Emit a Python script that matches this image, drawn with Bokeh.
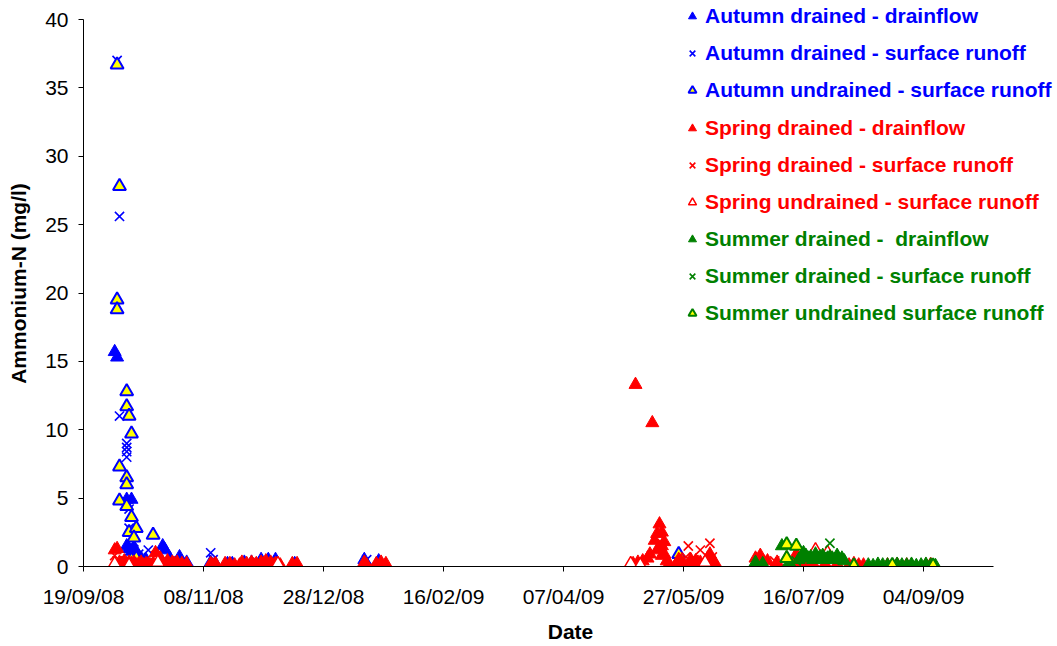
from datetime import datetime, timedelta
import pandas as pd
from bokeh.plotting import figure
from bokeh.models import (ColumnDataSource, Range1d, FixedTicker,
                          DatetimeTickFormatter, Legend, LegendItem)
from bokeh.embed import file_html
from bokeh.resources import INLINE

# ---------------- data ----------------
x_ticks = ["2008-09-19", "2008-11-08", "2008-12-28", "2009-02-16",
           "2009-04-07", "2009-05-27", "2009-07-16", "2009-09-04"]
y_ticks = [0, 5, 10, 15, 20, 25, 30, 35, 40]

aut_dr_df_dates = ["2008-10-02", "2008-10-03", "2008-10-07", "2008-10-09", "2008-10-07",
                   "2008-10-08", "2008-10-09", "2008-10-10", "2008-10-11", "2008-10-12",
                   "2008-10-13", "2008-10-15", "2008-10-22", "2008-10-23", "2008-10-25",
                   "2008-10-29", "2008-11-01", "2008-11-11", "2008-11-13", "2008-11-18",
                   "2008-11-20", "2008-11-25", "2008-11-28", "2008-12-02", "2008-12-05",
                   "2008-12-08", "2008-12-16", "2009-01-14", "2009-01-20"]
aut_dr_df_vals = [15.7, 15.3, 4.9, 4.9, 1.5, 1.3, 1.1, 1.4, 0.9, 0.7,
                  0.6, 0.5, 1.5, 1.2, 0.6, 0.7, 0.3, 0.3, 0.2, 0.2,
                  0.2, 0.3, 0.3, 0.5, 0.5, 0.5, 0.2, 0.5, 0.4]

aut_dr_sr_dates = ["2008-10-03", "2008-10-04", "2008-10-04", "2008-10-07", "2008-10-07",
                   "2008-10-07", "2008-10-07", "2008-10-08", "2008-10-08", "2008-10-09",
                   "2008-10-10", "2008-10-16", "2008-10-12", "2008-11-11", "2008-11-12",
                   "2008-12-03", "2009-01-15"]
aut_dr_sr_vals = [37.0, 25.6, 11.0, 9.0, 8.7, 8.4, 8.0, 4.2, 2.8, 2.6,
                  1.8, 1.2, 0.9, 1.0, 0.5, 0.4, 0.5]

aut_un_sr_dates = ["2008-10-03", "2008-10-04", "2008-10-03", "2008-10-03", "2008-10-07",
                   "2008-10-07", "2008-10-08", "2008-10-09", "2008-10-04", "2008-10-07",
                   "2008-10-07", "2008-10-04", "2008-10-07", "2008-10-09", "2008-10-08",
                   "2008-10-11", "2008-10-10", "2008-10-18", "2008-10-11", "2008-12-08",
                   "2008-10-09", "2009-05-25", "2009-06-07"]
aut_un_sr_vals = [36.7, 27.8, 19.5, 18.8, 12.8, 11.7, 11.0, 9.7, 7.3, 6.5,
                  6.0, 4.8, 4.4, 3.6, 2.5, 2.8, 2.1, 2.3, 0.6, 0.3,
                  0.5, 0.9, 0.6]

spr_dr_df_dates = ["2008-10-02", "2008-10-03", "2008-10-04", "2008-10-05", "2008-10-06",
                   "2008-10-07", "2008-10-08", "2008-10-09", "2008-10-10", "2008-10-12",
                   "2008-10-14", "2008-10-16", "2008-10-18", "2008-10-19", "2008-10-21",
                   "2008-10-22", "2008-10-24", "2008-10-26", "2008-10-28", "2008-10-30",
                   "2008-11-01", "2008-11-11", "2008-11-13", "2008-11-17", "2008-11-19",
                   "2008-11-21", "2008-11-24", "2008-11-26", "2008-11-28", "2008-11-30",
                   "2008-12-02", "2008-12-04", "2008-12-06", "2008-12-08", "2008-12-10",
                   "2008-12-15", "2008-12-17", "2009-01-14", "2009-01-19", "2009-01-21",
                   "2009-01-23", "2008-10-05", "2008-10-11", "2008-10-13", "2008-10-15",
                   "2008-10-17", "2008-10-20", "2008-10-23", "2008-10-27", "2008-11-12",
                   "2008-11-23", "2008-11-29", "2008-12-03", "2008-12-07", "2009-01-15",
                   "2009-05-07", "2009-05-14", "2009-05-06", "2009-05-08", "2009-05-10",
                   "2009-05-12", "2009-05-13", "2009-05-15", "2009-05-16", "2009-05-17",
                   "2009-05-17", "2009-05-18", "2009-05-18", "2009-05-19", "2009-05-19",
                   "2009-05-20", "2009-05-21", "2009-05-25", "2009-05-26", "2009-05-27",
                   "2009-05-30", "2009-06-01", "2009-06-03", "2009-06-06", "2009-06-07",
                   "2009-06-08", "2009-06-09", "2009-05-16", "2009-05-18", "2009-05-24",
                   "2009-05-31", "2009-06-02",
                   "2009-06-26", "2009-06-28", "2009-07-01", "2009-07-05", "2009-07-13",
                   "2009-07-12", "2009-07-16", "2009-07-20", "2009-07-25", "2009-07-30",
                   "2009-08-04", "2009-08-06", "2009-08-08", "2009-08-10", "2009-08-20",
                   "2009-08-28", "2009-09-05"]
spr_dr_df_vals = [1.2, 1.3, 0.3, 0.2, 0.4, 0.2, 0.3, 0.2, 0.3, 0.2,
                  0.1, 0.2, 0.2, 1.0, 0.6, 0.3, 0.4, 0.3, 0.3, 0.2,
                  0.2, 0.2, 0.2, 0.2, 0.2, 0.1, 0.3, 0.2, 0.3, 0.2,
                  0.3, 0.4, 0.3, 0.2, 0.1, 0.2, 0.2, 0.3, 0.2, 0.3,
                  0.2, 0.1, 0.1, 0.3, 0.2, 0.1, 0.2, 0.1, 0.2, 0.1,
                  0.1, 0.1, 0.2, 0.1, 0.1,
                  13.3, 10.5, 0.2, 0.3, 0.4, 0.6, 0.9, 1.9, 2.4, 3.1,
                  1.4, 2.5, 0.8, 1.8, 0.9, 0.4, 0.2, 0.5, 0.4, 0.2,
                  0.5, 0.4, 0.3, 0.6, 0.9, 0.5, 0.3, 1.2, 1.5, 0.2,
                  0.2, 0.3,
                  0.6, 0.8, 0.4, 0.3, 0.9, 0.3, 0.2, 0.2, 0.2, 0.2,
                  0.1, 0.2, 0.1, 0.1, 0.1, 0.1, 0.1]

spr_dr_sr_dates = ["2008-10-02", "2008-10-03", "2008-10-07", "2008-10-19", "2008-11-12",
                   "2009-05-28", "2009-05-29", "2009-06-03", "2009-06-07", "2009-06-08",
                   "2009-06-28", "2009-07-04", "2009-07-06"]
spr_dr_sr_vals = [0.8, 0.4, 0.3, 0.8, 0.2, 0.7, 1.5, 1.2, 1.7, 0.7, 0.5, 0.4, 0.3]

spr_un_sr_dates = ["2008-10-02", "2008-10-08", "2008-10-20", "2008-12-09", "2009-05-05",
                   "2009-05-09", "2009-06-05", "2009-07-09", "2009-07-21", "2009-07-26",
                   "2009-08-24", "2009-09-07"]
spr_un_sr_vals = [0.2, 0.1, 0.3, 0.2, 0.2, 0.1, 0.3, 0.6, 1.2, 1.0, 0.1, 0.1]

sum_dr_df_dates = ["2009-06-26", "2009-06-29", "2009-07-07", "2009-07-10", "2009-07-14",
                   "2009-07-15", "2009-07-16", "2009-07-17", "2009-07-18", "2009-07-19",
                   "2009-07-20", "2009-07-21", "2009-07-22", "2009-07-23", "2009-07-24",
                   "2009-07-25", "2009-07-26", "2009-07-27", "2009-07-28", "2009-07-29",
                   "2009-07-30", "2009-07-31", "2009-08-01", "2009-08-02",
                   "2009-08-12", "2009-08-14", "2009-08-16", "2009-08-18", "2009-08-20",
                   "2009-08-22", "2009-08-24", "2009-08-26", "2009-08-28", "2009-08-30",
                   "2009-09-01", "2009-09-03", "2009-09-05", "2009-09-07", "2009-09-09"]
sum_dr_df_vals = [0.3, 0.2, 1.5, 0.3, 0.5, 0.7, 1.0, 0.8, 0.6, 0.7,
                  0.5, 0.9, 0.6, 0.7, 0.8, 0.5, 0.6, 0.7, 0.6, 0.5,
                  0.8, 0.5, 0.6, 0.4,
                  0.1, 0.05, 0.15, 0.1, 0.1, 0.05, 0.15, 0.1, 0.1, 0.15,
                  0.05, 0.1, 0.15, 0.1, 0.05]

sum_dr_sr_dates = ["2009-07-27", "2009-07-13"]
sum_dr_sr_vals = [1.7, 0.4]

sum_un_sr_dates = ["2009-07-09", "2009-07-13", "2009-07-09", "2009-08-06", "2009-08-22",
                   "2009-09-08"]
sum_un_sr_vals = [1.6, 1.5, 0.6, 0.05, 0.1, 0.05]

labels = ["Autumn drained - drainflow", "Autumn drained - surface runoff",
          "Autumn undrained - surface runoff", "Spring drained - drainflow",
          "Spring drained - surface runoff", "Spring undrained - surface runoff",
          "Summer drained -  drainflow", "Summer drained - surface runoff",
          "Summer undrained surface runoff"]

BLUE, RED, GREEN, YELLOW = "#0000FF", "#FF0000", "#008000", "#FFFF00"
FONT = "Liberation Sans"

# ---------------- figure ----------------
start = datetime(2008, 9, 19)
axis_end = start + timedelta(days=379.2)
p = figure(width=1057, height=646, x_axis_type="datetime",
           x_range=Range1d(start, start + timedelta(days=405.83)),
           y_range=Range1d(0, 41.39),
           output_backend="svg", toolbar_location=None,
           min_border_left=83, min_border_right=0,
           min_border_top=0, min_border_bottom=80)
p.outline_line_color = None
p.xgrid.visible = False
p.ygrid.visible = False
p.background_fill_color = "white"
p.border_fill_color = "white"


def add(dates, vals, marker, lc, fc, size, lw):
    src = ColumnDataSource(dict(x=pd.to_datetime(dates), y=vals))
    return p.scatter("x", "y", source=src, marker=marker, size=size,
                     line_color=lc, fill_color=fc, line_width=lw)


r = []
r.append(add(aut_dr_df_dates, aut_dr_df_vals, "triangle", BLUE, BLUE, 13, 1))
r.append(add(aut_dr_sr_dates, aut_dr_sr_vals, "x", BLUE, None, 13, 1.6))
r.append(add(aut_un_sr_dates, aut_un_sr_vals, "triangle", BLUE, YELLOW, 13, 2))
r.append(add(spr_dr_df_dates, spr_dr_df_vals, "triangle", RED, RED, 13, 1))
r.append(add(spr_dr_sr_dates, spr_dr_sr_vals, "x", RED, None, 13, 1.6))
r.append(add(spr_un_sr_dates, spr_un_sr_vals, "triangle", RED, "white", 13, 1.5))
r.append(add(sum_dr_df_dates, sum_dr_df_vals, "triangle", GREEN, GREEN, 13, 1))
r.append(add(sum_dr_sr_dates, sum_dr_sr_vals, "x", GREEN, None, 13, 1.6))
r.append(add(sum_un_sr_dates, sum_un_sr_vals, "triangle", GREEN, YELLOW, 13, 2))

# ---------------- axes ----------------
tick_ms = [pd.Timestamp(d).value / 1e6 for d in x_ticks]
p.xaxis.ticker = FixedTicker(ticks=tick_ms)
fmt = "%d/%m/%y"
p.xaxis.formatter = DatetimeTickFormatter(days=fmt, months=fmt, years=fmt,
                                          hours=fmt, hourmin=fmt)
p.xaxis.bounds = (start, axis_end)
p.yaxis.ticker = FixedTicker(ticks=y_ticks)
p.yaxis.bounds = (0, 40)
p.xaxis.axis_label = "Date"
p.yaxis.axis_label = "Ammonium-N (mg/l)"
for ax in (p.xaxis, p.yaxis):
    ax.axis_line_color = "black"
    ax.major_tick_line_color = "black"
    ax.major_tick_out = 5
    ax.major_tick_in = 0
    ax.minor_tick_line_color = None
    ax.major_label_text_font = FONT
    ax.major_label_text_font_size = "21px"
    ax.major_label_text_color = "black"
    ax.axis_label_text_font = FONT
    ax.axis_label_text_font_size = "21px"
    ax.axis_label_text_font_style = "bold"
    ax.axis_label_text_color = "black"
p.xaxis.major_label_standoff = 13
p.xaxis.axis_label_standoff = 9
p.yaxis.major_label_standoff = 10
p.yaxis.axis_label_standoff = 12

# ---------------- legends ----------------
groups = [(0, BLUE, 463), (3, RED, 351), (6, GREEN, 240)]
for i0, col, vy in groups:
    items = [LegendItem(label=labels[i], renderers=[r[i]]) for i in range(i0, i0 + 3)]
    lg = Legend(items=items, location=(599, vy), orientation="vertical",
                padding=0, margin=0, spacing=11,
                glyph_width=20, glyph_height=26, label_height=26,
                label_standoff=3,
                label_text_font=FONT, label_text_font_size="21px",
                label_text_font_style="bold", label_text_color=col,
                border_line_color=None, background_fill_alpha=0)
    p.add_layout(lg, "center")

open("out.html", "w").write(file_html(p, INLINE))
